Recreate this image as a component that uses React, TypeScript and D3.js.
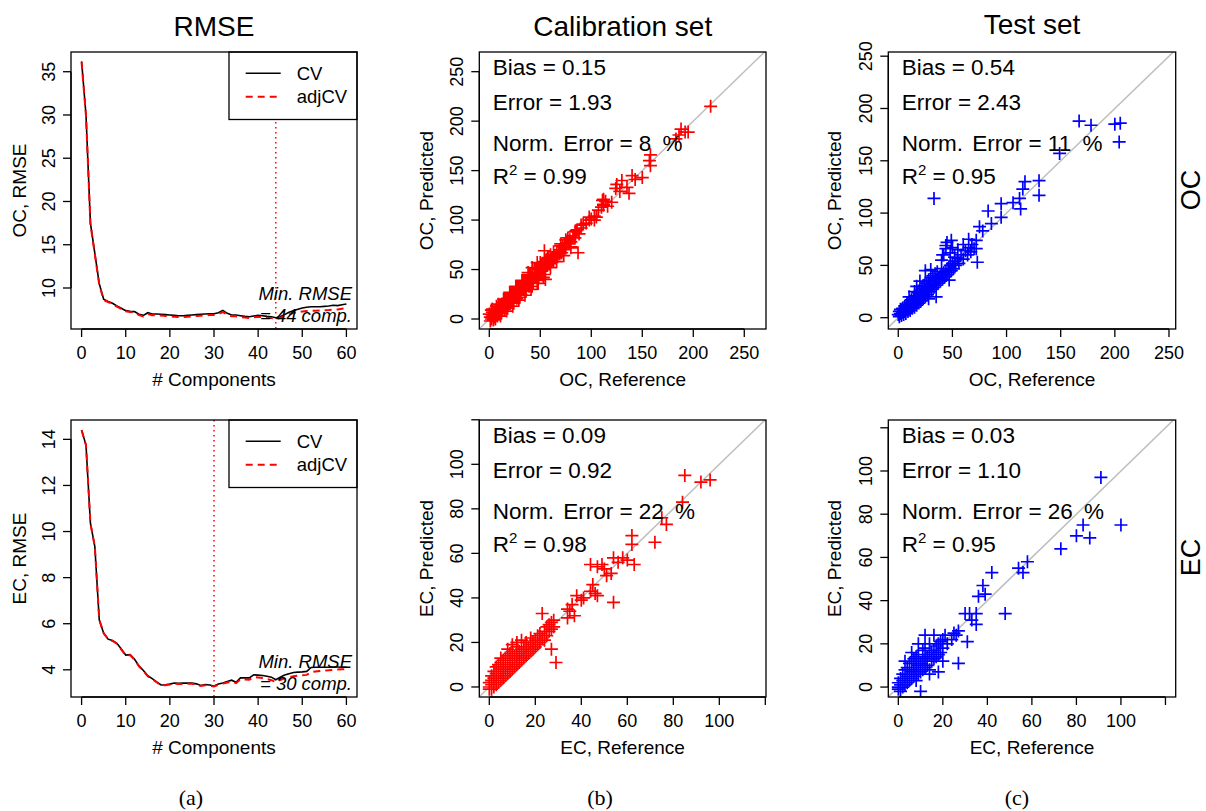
import React from 'react';
import * as d3 from 'd3';

const FONT = "'Liberation Sans', Arial, Helvetica, sans-serif";
const SERIF = "'Liberation Serif', 'Times New Roman', Times, serif";

// ---------- data ----------
const components = d3.range(0, 61);

const ocCV = [36.2, 30.0, 17.5, 14.0, 10.5, 8.7, 8.45, 8.23, 7.92, 7.65, 7.38, 7.3, 7.27, 6.96, 6.84, 7.14, 6.99, 6.99, 6.96, 6.92,
  6.88, 6.84, 6.8, 6.8, 6.84, 6.88, 6.92, 6.96, 6.99, 7.03, 7.03, 7.14, 7.42, 7.07, 6.88, 6.88, 6.8, 6.72, 6.68, 6.76,
  6.84, 6.8, 6.72, 6.68, 6.57, 6.68, 6.92, 7.19, 7.38, 7.54, 7.69, 7.77, 7.84, 7.84, 7.84, 7.88, 7.92, 8.0, 7.96, 8.07, 8.15];
const ocAdjCV = [36.1, 29.9, 17.4, 13.9, 10.4, 8.62, 8.38, 8.15, 7.85, 7.58, 7.3, 7.22, 7.18, 6.86, 6.72, 7.0, 6.86, 6.85, 6.82, 6.77,
  6.72, 6.68, 6.64, 6.64, 6.68, 6.72, 6.76, 6.8, 6.83, 6.87, 6.88, 6.98, 7.22, 6.92, 6.74, 6.73, 6.65, 6.58, 6.54, 6.6,
  6.68, 6.64, 6.57, 6.53, 6.44, 6.54, 6.75, 6.95, 7.1, 7.2, 7.28, 7.33, 7.36, 7.38, 7.4, 7.42, 7.45, 7.5, 7.52, 7.6, 7.65];
const ecCV = [14.4, 13.75, 10.36, 9.35, 6.17, 5.59, 5.33, 5.27, 5.15, 4.9, 4.64, 4.66, 4.46, 4.17, 3.97, 3.74, 3.62, 3.48, 3.34, 3.35,
  3.38, 3.43, 3.41, 3.42, 3.42, 3.42, 3.39, 3.32, 3.36, 3.34, 3.30, 3.38, 3.43, 3.49, 3.55, 3.46, 3.65, 3.65, 3.65, 3.78,
  3.77, 3.75, 3.72, 3.68, 3.57, 3.68, 3.77, 3.83, 3.88, 3.9, 3.91, 3.93, 4.1, 4.11, 4.11, 4.11, 4.11, 4.12, 4.12, 4.11, 4.11];
const ecAdjCV = [14.4, 13.75, 10.36, 9.35, 6.17, 5.59, 5.33, 5.25, 5.13, 4.88, 4.62, 4.64, 4.44, 4.15, 3.95, 3.72, 3.6, 3.46, 3.32, 3.33,
  3.36, 3.4, 3.38, 3.39, 3.39, 3.39, 3.36, 3.3, 3.33, 3.31, 3.28, 3.35, 3.4, 3.45, 3.5, 3.42, 3.58, 3.58, 3.57, 3.68,
  3.67, 3.64, 3.6, 3.55, 3.47, 3.56, 3.63, 3.68, 3.72, 3.74, 3.76, 3.78, 3.9, 3.93, 3.95, 3.97, 3.98, 4.0, 4.01, 4.02, 4.03];
const ocMinComp = 44;
const ecMinComp = 30;

// [reference, predicted]
const ocCal: [number, number][] = [
  [1,2],[2,0],[2,5],[3,3],[3,7],[4,1],[4,4],[5,6],[5,2],[6,8],[6,4],[7,5],[7,10],[8,7],[8,3],[9,9],[9,12],[10,6],[10,10],[11,13],
  [11,8],[12,11],[12,15],[13,9],[13,14],[14,12],[14,17],[15,13],[15,10],[16,16],[16,19],[17,14],[17,12],[18,18],[18,21],[19,16],
  [19,20],[20,18],[20,23],[21,17],[21,21],[22,20],[22,25],[23,22],[23,18],[24,24],[24,27],[25,22],[25,26],[26,24],[26,29],[27,25],
  [27,21],[28,27],[28,31],[29,26],[29,30],[30,28],[30,33],[31,29],[31,25],[32,31],[32,35],[33,30],[33,34],[34,32],[34,37],[35,33],
  [35,29],[36,35],[36,39],[37,34],[37,38],[38,36],[38,41],[39,37],[39,33],[40,39],[40,43],[41,38],[41,42],[42,40],[42,45],[43,41],
  [43,37],[44,43],[44,47],[45,42],[45,46],[46,44],[46,50],[47,45],[47,41],[48,47],[48,52],[49,46],[49,50],[50,48],[50,53],[51,49],
  [52,51],[52,56],[53,50],[54,53],[54,58],[55,52],[56,55],[56,60],[57,54],[58,57],[58,62],[59,56],[60,59],[60,63],[61,58],[62,61],
  [63,63],[63,58],[64,64],[65,62],[66,66],[67,63],[68,68],[69,66],[70,70],[71,67],[72,73],[73,70],[74,75],[75,72],[76,77],[78,76],
  [79,80],[80,78],[82,84],[84,82],[86,90],[88,86],[90,92],[92,96],[95,97],[98,100],[100,101],[103,104],[105,103],[107,110],[110,113],
  [112,116],[114,119],[116,114],[112,121],[54,69],[55,40],[47,57],[87,67],[98,103],[103,100],[111,120],[112,115],[120,118],[124,132],
  [130,140],[135,133],[137,127],[143,141],[150,143],[157,160],[158,155],[158,166],[183,182],[186,186],[188,192],[192,189],[195,189],
  [217,215],[42,52],[38,47],[48,36],[60,65],[70,76],[75,80],[80,73],[85,89],[90,95],[125,136],[128,129],[140,145],
  [3,10],[6,0],[9,15],[12,6],[15,20],[18,11],[21,26],[24,16],[27,32],[30,22],[33,38],[36,28],[39,44],[42,33],[45,50],[48,39],
  [51,55],[54,45],[57,61],[60,52],[63,68],[66,58],[70,74],[73,64],[77,82],[80,72],[84,88],[0,5],[1,-2],[2,9],[4,-1],[7,13],
  [11,3],[14,20],[17,8],[20,27],[23,13],[26,33],[29,19],[32,39],[35,24],[38,45],[41,30],[44,51],[47,36],[50,57],[53,42]
];
const ocTest: [number, number][] = [
  [0,3],[1,1],[1,6],[2,4],[2,8],[3,2],[3,6],[4,5],[4,9],[5,3],[5,7],[6,6],[6,11],[7,4],[7,9],[8,8],[8,13],[9,6],[9,11],[10,10],
  [10,15],[11,7],[11,12],[12,11],[12,17],[13,9],[13,14],[14,13],[14,19],[15,10],[15,16],[16,15],[16,21],[17,12],[17,18],[18,17],
  [18,24],[19,14],[19,20],[20,19],[20,26],[21,16],[21,22],[22,21],[22,28],[23,18],[23,25],[24,23],[24,31],[25,20],[25,27],[26,26],
  [26,33],[27,22],[27,29],[28,28],[28,36],[29,25],[29,32],[30,30],[30,38],[31,27],[32,33],[32,40],[33,29],[34,35],[34,42],[35,31],
  [36,37],[36,44],[37,33],[38,39],[39,35],[40,41],[40,47],[41,37],[42,43],[43,39],[44,45],[45,41],[46,47],[47,43],[48,50],[49,45],
  [50,52],[51,47],[52,54],[53,50],[55,57],[56,52],[58,60],[60,56],[62,64],[64,60],[65,67],[67,63],[68,70],[70,66],[72,74],
  [20,35],[17,30],[25,45],[30,46],[40,55],[44,66],[45,72],[48,62],[50,67],[52,58],[49,74],[42,60],[33,114],[35,20],[44,69],[41,60],
  [73,53],[72,66],[78,83],[75,87],[83,102],[86,90],[95,96],[95,109],[106,110],[113,104],[115,123],[117,130],[112,114],[130,131],
  [130,117],[149,157],[167,188],[178,184],[200,185],[205,186],[204,168],[60,70],[65,75],[55,65],[38,38],[47,36],[28,18],[15,25],[10,20]
];
const ecCal: [number, number][] = [
  [0,0],[0,2],[0,-1],[1,1],[1,3],[1,-1],[1,5],[2,0],[2,2],[2,4],[2,7],[3,1],[3,3],[3,6],[3,9],[4,2],[4,4],[4,7],[4,10],[5,3],
  [5,5],[5,8],[5,11],[6,4],[6,6],[6,9],[6,12],[7,5],[7,7],[7,10],[7,13],[8,6],[8,8],[8,11],[8,14],[9,7],[9,9],[9,12],[9,15],[10,8],
  [10,10],[10,13],[10,16],[11,9],[11,11],[11,14],[12,10],[12,12],[12,15],[12,18],[13,11],[13,13],[13,16],[14,12],[14,14],[14,17],
  [15,13],[15,15],[15,18],[16,14],[16,16],[16,20],[17,15],[17,18],[18,16],[18,19],[18,22],[19,17],[19,20],[20,18],[20,21],[21,19],
  [21,23],[22,20],[22,24],[23,22],[24,21],[24,25],[25,23],[25,27],[26,25],[27,26],[27,29],[28,27],[12,20],[10,19],[14,21],[8,17],[5,13],
  [23,33],[24,25],[26,28],[27,17],[29,11],[28,30],[34,31],[35,34],[37,32],[36,37],[34,35],[40,39],[38,41],[45,46],[44,43],[47,41],
  [44,55],[49,55],[54,58],[58,58],[63,55],[53,51],[51,50],[47,54],[50,53],[56,56],[54,38],[62,68],[62,64],[72,65],[75,76],[77,73],
  [84,83],[85,95],[92,92],[96,93],[60,57],[46,42],[41,40]
];
const ecTest: [number, number][] = [
  [0,0],[0,2],[0,-1],[1,1],[1,4],[1,-2],[2,0],[2,3],[2,6],[3,1],[3,4],[3,8],[4,2],[4,5],[4,9],[5,3],[5,6],[5,11],[6,4],[6,7],
  [6,12],[7,5],[7,8],[7,13],[8,3],[8,9],[8,14],[9,6],[9,10],[9,15],[10,7],[10,11],[10,-2],[11,8],[11,12],[11,17],[12,9],[12,13],
  [12,18],[13,10],[13,14],[14,8],[14,15],[14,20],[15,12],[15,16],[16,13],[16,17],[16,24],[17,14],[17,19],[18,15],[18,20],[19,16],
  [19,21],[20,18],[20,22],[21,24],[22,20],[3,12],[6,16],[9,20],[12,24],[5,9],
  [25,25],[26,24],[27,26],[31,21],[27,11],[14,6],[30,34],[32,34],[33,31],[35,29],[35,34],[36,42],[38,47],[39,43],[42,53],[48,34],
  [54,55],[56,53],[58,58],[73,64],[80,70],[83,75],[86,69],[91,97],[100,75],[20,12],[18,7],[24,22]
];

const ocStats = { cal: ['0.15', '1.93', '8', '0.99'], test: ['0.54', '2.43', '11', '0.95'] };
const ecStats = { cal: ['0.09', '0.92', '22', '0.98'], test: ['0.03', '1.10', '26', '0.95'] };

const compTicks = [0, 10, 20, 30, 40, 50, 60];
const ocRmseTicks = [10, 15, 20, 25, 30, 35];
const ecRmseTicks = [4, 6, 8, 10, 12, 14];
const ocScatterTicks = [0, 50, 100, 150, 200, 250];
const ecScatterTicks = [0, 20, 40, 60, 80, 100, 120];
const ecScatterLabels = ['0', '20', '40', '60', '80', '100', ''];

function Axes({ box, x, y, xTicks, xLabels, yTicks, yLabels, xTitle, yTitle }: any) {
  const tl = 8;
  return (
    <g fontFamily={FONT} fill="#000">
      <rect x={box.x0} y={box.y0} width={box.x1 - box.x0} height={box.y1 - box.y0} fill="none" stroke="#000" strokeWidth={1.3} />
      <line x1={x(xTicks[0])} x2={x(xTicks[xTicks.length - 1])} y1={box.y1} y2={box.y1} stroke="#000" strokeWidth={1.3} />
      {xTicks.map((t: number, i: number) => (
        <g key={'x' + i}>
          <line x1={x(t)} x2={x(t)} y1={box.y1} y2={box.y1 + tl} stroke="#000" strokeWidth={1.3} />
          <text x={x(t)} y={box.y1 + 30} fontSize={18} textAnchor="middle">{xLabels ? xLabels[i] : String(t)}</text>
        </g>
      ))}
      <line x1={box.x0} x2={box.x0} y1={y(yTicks[0])} y2={y(yTicks[yTicks.length - 1])} stroke="#000" strokeWidth={1.3} />
      {yTicks.map((t: number, i: number) => (
        <g key={'y' + i}>
          <line x1={box.x0 - tl} x2={box.x0} y1={y(t)} y2={y(t)} stroke="#000" strokeWidth={1.3} />
          <text transform={`translate(${box.x0 - 16},${y(t)}) rotate(-90)`} fontSize={18} textAnchor="middle">{yLabels ? yLabels[i] : String(t)}</text>
        </g>
      ))}
      <text x={(box.x0 + box.x1) / 2} y={box.y1 + 57} fontSize={19} textAnchor="middle">{xTitle}</text>
      <text transform={`translate(${yTitle.x},${(box.y0 + box.y1) / 2}) rotate(-90)`} fontSize={19} textAnchor="middle">{yTitle.text}</text>
    </g>
  );
}

function RmsePanel({ box, yDomain, cv, adj, minComp, yTicks, yTitle, id }: any) {
  const x = d3.scaleLinear().domain([-2.4, 62.4]).range([box.x0, box.x1]);
  const y = d3.scaleLinear().domain(yDomain).range([box.y1, box.y0]);
  const line = d3.line<number>().x((_, i) => x(components[i])).y((d) => y(d));
  const lg = { x0: box.x1 - 128, y0: box.y0, w: 128, h: 67.5 };
  return (
    <g>
      <defs>
        <clipPath id={id}><rect x={box.x0} y={box.y0} width={box.x1 - box.x0} height={box.y1 - box.y0} /></clipPath>
      </defs>
      <g clipPath={`url(#${id})`}>
        <line x1={x(minComp)} x2={x(minComp)} y1={box.y0} y2={box.y1} stroke="#FF0000" strokeWidth={1.5} strokeDasharray="1.5,3.5" />
        <path d={line(cv) || ''} fill="none" stroke="#000" strokeWidth={1.6} />
        <path d={line(adj) || ''} fill="none" stroke="#FF0000" strokeWidth={2} strokeDasharray="7,5" />
      </g>
      <rect x={lg.x0} y={lg.y0} width={lg.w} height={lg.h} fill="#fff" stroke="#000" strokeWidth={1.3} />
      <line x1={lg.x0 + 16.7} x2={lg.x0 + 51.7} y1={lg.y0 + 21.3} y2={lg.y0 + 21.3} stroke="#000" strokeWidth={1.6} />
      <line x1={lg.x0 + 16.7} x2={lg.x0 + 51.7} y1={lg.y0 + 44.7} y2={lg.y0 + 44.7} stroke="#FF0000" strokeWidth={2} strokeDasharray="7,5" />
      <text x={lg.x0 + 67.7} y={lg.y0 + 21.3 + 6.5} fontFamily={FONT} fontSize={18.5}>CV</text>
      <text x={lg.x0 + 67.7} y={lg.y0 + 44.7 + 6.5} fontFamily={FONT} fontSize={18.5}>adjCV</text>
      <text x={box.x1 - 5} y={box.y1 - 29} fontFamily={FONT} fontSize={18.5} fontStyle="italic" textAnchor="end">Min. RMSE</text>
      <text x={box.x1 - 5} y={box.y1 - 7.5} fontFamily={FONT} fontSize={18.5} fontStyle="italic" textAnchor="end">{`= ${minComp} comp.`}</text>
      <Axes box={box} x={x} y={y} xTicks={compTicks} yTicks={yTicks} xTitle="# Components" yTitle={yTitle} />
    </g>
  );
}

function ScatterPanel({ box, xDomain, yDomain, ticks, labels, points, color, stats, xTitle, yTitle, id }: any) {
  const x = d3.scaleLinear().domain(xDomain).range([box.x0, box.x1]);
  const y = d3.scaleLinear().domain(yDomain).range([box.y1, box.y0]);
  const lo = Math.min(xDomain[0], yDomain[0]);
  const hi = Math.max(xDomain[1], yDomain[1]);
  const a = 6.5;
  const plus = (points as [number, number][]).map(([rx, py]) => {
    const cx = x(rx), cy = y(py);
    return `M${cx - a},${cy}H${cx + a}M${cx},${cy - a}V${cy + a}`;
  }).join('');
  const tx = box.x0 + 13.4;
  const fs = 22.5;
  return (
    <g>
      <defs>
        <clipPath id={id}><rect x={box.x0} y={box.y0} width={box.x1 - box.x0} height={box.y1 - box.y0} /></clipPath>
      </defs>
      <g clipPath={`url(#${id})`}>
        <line x1={x(lo)} y1={y(lo)} x2={x(hi)} y2={y(hi)} stroke="#BEBEBE" strokeWidth={1.5} />
        <path d={plus} fill="none" stroke={color} strokeWidth={1.7} />
      </g>
      <g fontFamily={FONT} fontSize={fs} fill="#000">
        <text x={tx} y={box.y0 + 22.5}>{`Bias = ${stats[0]}`}</text>
        <text x={tx} y={box.y0 + 57.7}>{`Error = ${stats[1]}`}</text>
        <text x={tx} y={box.y0 + 98.5}>Norm.<tspan dx={3}>{` Error = ${stats[2]}`}</tspan><tspan dx={5}>{' %'}</tspan></text>
        <text x={tx} y={box.y0 + 132}>R<tspan fontSize={15} dy={-9}>2</tspan><tspan dy={9}>{` = ${stats[3]}`}</tspan></text>
      </g>
      <Axes box={box} x={x} y={y} xTicks={ticks} xLabels={labels} yTicks={ticks} yLabels={labels} xTitle={xTitle} yTitle={yTitle} />
    </g>
  );
}

export default function App() {
  const rowTop = { y0: 52, y1: 329 };
  const rowBot = { y0: 420, y1: 697 };
  const colA = { x0: 71, x1: 357 };
  const colB = { x0: 479.3, x1: 766 };
  const colC = { x0: 888.3, x1: 1175.7 };
  return (
    <svg width={1206} height={811} style={{ position: 'absolute', left: 0, top: 0, background: '#fff' }}>
      <rect x={0} y={0} width={1206} height={811} fill="#fff" />
      <g fontFamily={FONT} fontSize={28} textAnchor="middle">
        <text x={214} y={35.5}>RMSE</text>
        <text x={622.7} y={35.5}>Calibration set</text>
        <text x={1032} y={34}>Test set</text>
      </g>
      <text transform="translate(1199.5,190) rotate(-90)" fontFamily={FONT} fontSize={27} textAnchor="middle">OC</text>
      <text transform="translate(1199.5,557.5) rotate(-90)" fontFamily={FONT} fontSize={27} textAnchor="middle">EC</text>

      <RmsePanel id="c1" box={{ ...colA, ...rowTop }} yDomain={[5.26, 37.28]} cv={ocCV} adj={ocAdjCV} minComp={ocMinComp}
        yTicks={ocRmseTicks} yTitle={{ x: 26, text: 'OC, RMSE' }} />
      <RmsePanel id="c2" box={{ ...colA, ...rowBot }} yDomain={[2.82, 14.84]} cv={ecCV} adj={ecAdjCV} minComp={ecMinComp}
        yTicks={ecRmseTicks} yTitle={{ x: 26, text: 'EC, RMSE' }} />

      <ScatterPanel id="c3" box={{ ...colB, ...rowTop }} xDomain={[-9.8, 271.3]} yDomain={[-10.1, 269.9]} ticks={ocScatterTicks}
        points={ocCal} color="#FF0000" stats={ocStats.cal} xTitle="OC, Reference" yTitle={{ x: 433, text: 'OC, Predicted' }} />
      <ScatterPanel id="c4" box={{ ...colC, ...rowTop }} xDomain={[-9.2, 256.2]} yDomain={[-10.8, 254]} ticks={ocScatterTicks}
        points={ocTest} color="#0000FF" stats={ocStats.test} xTitle="OC, Reference" yTitle={{ x: 841, text: 'OC, Predicted' }} />
      <ScatterPanel id="c5" box={{ ...colB, ...rowBot }} xDomain={[-4.35, 120.3]} yDomain={[-4.5, 119.9]} ticks={ecScatterTicks}
        labels={ecScatterLabels} points={ecCal} color="#FF0000" stats={ecStats.cal} xTitle="EC, Reference" yTitle={{ x: 433, text: 'EC, Predicted' }} />
      <ScatterPanel id="c6" box={{ ...colC, ...rowBot }} xDomain={[-4.5, 124.6]} yDomain={[-4.6, 123.6]} ticks={ecScatterTicks}
        labels={ecScatterLabels} points={ecTest} color="#0000FF" stats={ecStats.test} xTitle="EC, Reference" yTitle={{ x: 841, text: 'EC, Predicted' }} />

      <g fontFamily={SERIF} fontSize={22} textAnchor="middle">
        <text x={191} y={805}>(a)</text>
        <text x={600} y={805}>(b)</text>
        <text x={1017} y={805}>(c)</text>
      </g>
    </svg>
  );
}
